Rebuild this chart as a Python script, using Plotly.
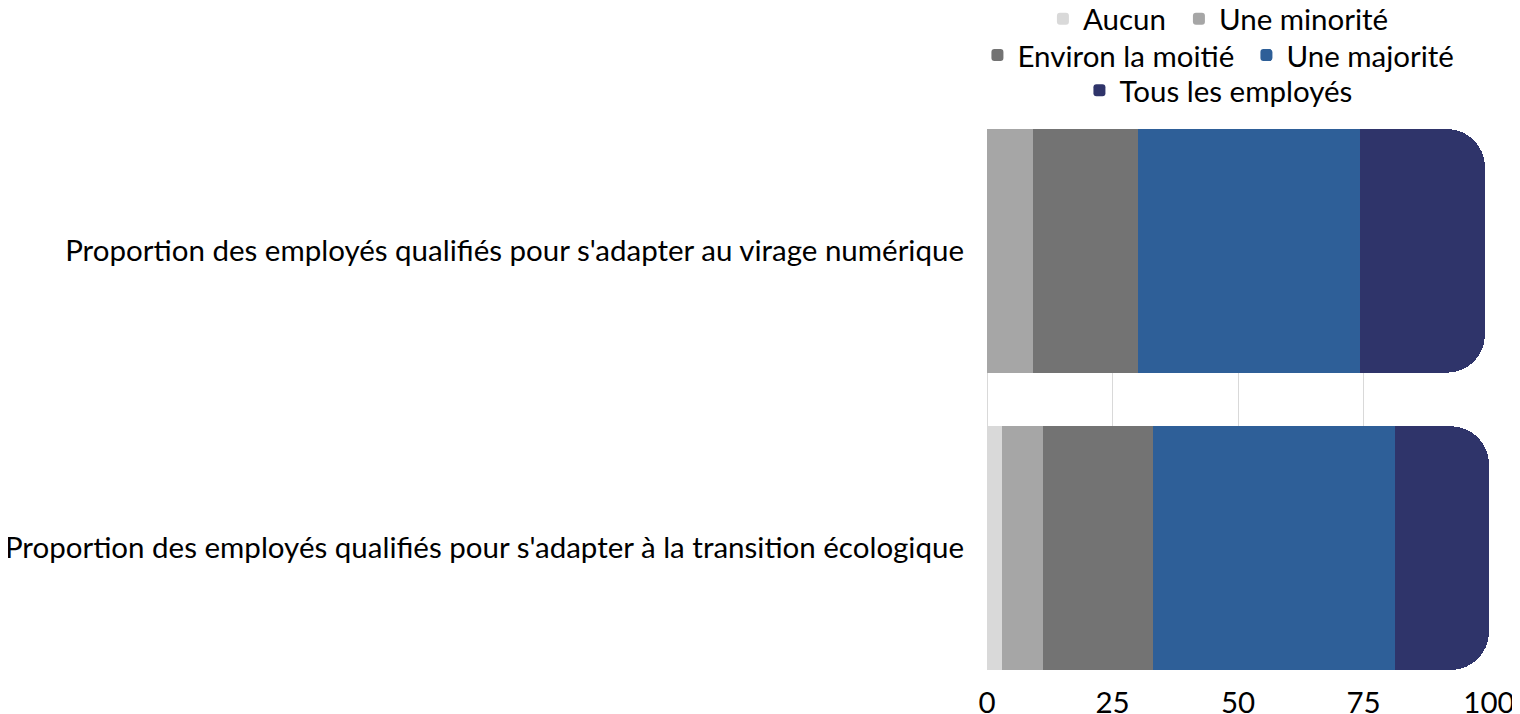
import plotly.graph_objects as go

categories = [
    "Proportion des employés qualifiés pour s'adapter à la transition écologique",
    "Proportion des employés qualifiés pour s'adapter au virage numérique",
]
series_names = ["Aucun", "Une minorité", "Environ la moitié", "Une majorité", "Tous les employés"]
aucun = [3.0, 0.0]
minorite = [8.2, 9.2]
moitie = [21.9, 20.9]
majorite = [48.1, 44.2]
tous = [18.8, 24.9]
series_values = [aucun, minorite, moitie, majorite, tous]
colors = ["#D9D9D9", "#A6A6A6", "#737373", "#2E5F98", "#2F346A"]
legend_ids = ["legend", "legend", "legend2", "legend2", "legend3"]
legend_widths = [91, 0, 224, 0, 0]
x_ticks = [0, 25, 50, 75, 100]

FONT = "Lato"
FS = 29.5

fig = go.Figure()
for name, vals, col, lg, lw in zip(series_names, series_values, colors, legend_ids, legend_widths):
    kw = dict(legendwidth=lw) if lw else {}
    fig.add_trace(go.Bar(
        y=categories, x=vals, name=name, orientation="h",
        marker=dict(color=col, line=dict(width=0)),
        legend=lg, **kw,
    ))

legend_common = dict(
    orientation="h", xanchor="center", yanchor="middle", x=0.461,
    font=dict(family=FONT, size=FS, color="#000000"),
    bgcolor="rgba(0,0,0,0)", traceorder="normal",
)

# page body has an 8px margin, so the figure is drawn at (8, 8)
fig.update_layout(
    barmode="stack",
    bargap=0.18,
    barcornerradius=38,
    width=1512, height=706,
    margin=dict(l=979, r=31, t=121, b=44, autoexpand=False),
    paper_bgcolor="white", plot_bgcolor="white",
    font=dict(family=FONT, size=FS, color="#000000"),
    xaxis=dict(
        range=[0, 100], tickvals=x_ticks, ticktext=[str(v) for v in x_ticks],
        showgrid=True, gridcolor="#D9D9D9", gridwidth=1,
        zeroline=True, zerolinecolor="#D9D9D9", zerolinewidth=1,
        showline=False, ticks="", ticklabelstandoff=12,
        tickfont=dict(family=FONT, size=FS, color="#000000"),
        automargin=False, fixedrange=True,
    ),
    yaxis=dict(
        type="category", categoryorder="array", categoryarray=categories,
        range=[-0.41, 1.41], showgrid=False, zeroline=False, showline=False,
        ticks="", ticklabelstandoff=22,
        tickfont=dict(family=FONT, size=FS, color="#000000"),
        automargin=False, fixedrange=True,
    ),
    legend=dict(**legend_common, y=1.203),
    legend2=dict(**legend_common, y=1.136),
    legend3=dict(**legend_common, y=1.071),
    showlegend=True,
)

fig.write_html("out.html")
